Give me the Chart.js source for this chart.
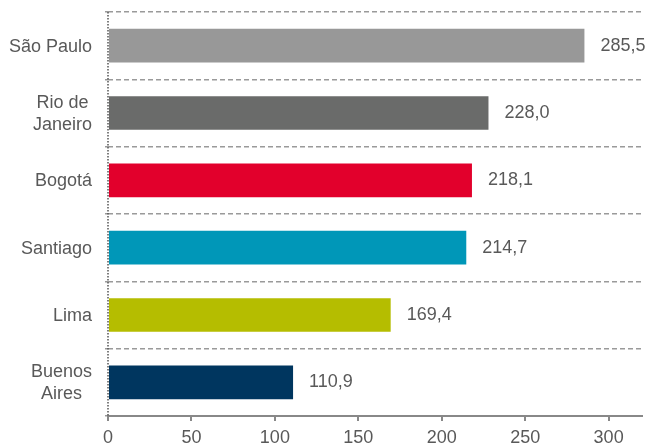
<!DOCTYPE html>
<html>
<head>
<meta charset="utf-8">
<script src="https://cdn.jsdelivr.net/npm/chart.js@4/dist/chart.umd.min.js"></script>
<style>
html,body{margin:0;padding:0;background:#fff;}
#wrap{width:651px;height:447px;position:relative;}
</style>
</head>
<body>
<div id="wrap"><canvas id="c"></canvas></div>
<script>
const categories = [["São Paulo"], ["Rio de", "Janeiro"], ["Bogotá"], ["Santiago"], ["Lima"], ["Buenos", "Aires"]];
const values = [285.5, 228.0, 218.1, 214.7, 169.4, 110.9];
const barColors = ["#989898", "#6a6b6a", "#e2002c", "#0097b8", "#b5bd00", "#00365f"];
const xTicks = [0, 50, 100, 150, 200, 250, 300];
const xMax = 320;

const FONT = "'Liberation Sans', Arial, sans-serif";
const TEXT = "#595959";

const labelPlugin = {
  id: 'labels',
  afterDatasetsDraw(chart) {
    const ctx = chart.ctx;
    const meta = chart.getDatasetMeta(0);
    const yScale = chart.scales.y;
    const area = chart.chartArea;
    ctx.save();
    // dotted left axis
    ctx.strokeStyle = '#555555';
    ctx.lineWidth = 1.5;
    ctx.setLineDash([1.5, 1.5]);
    ctx.beginPath();
    ctx.moveTo(area.left, area.top);
    ctx.lineTo(area.left, area.bottom);
    ctx.stroke();
    ctx.setLineDash([]);
    ctx.font = "18px " + FONT;
    ctx.fillStyle = TEXT;
    ctx.textBaseline = 'middle';
    // value labels
    meta.data.forEach((bar, i) => {
      ctx.textAlign = 'left';
      ctx.fillText(values[i].toFixed(1).replace('.', ','), bar.x + 16, bar.y);
    });
    // category labels: block right-aligned, lines centered within block
    const rightEdge = 92;
    const lh = 22;
    categories.forEach((lines, i) => {
      const cy = yScale.getPixelForValue(i);
      const w = Math.max(...lines.map(l => ctx.measureText(l).width));
      const cx = rightEdge - w / 2;
      ctx.textAlign = 'center';
      lines.forEach((l, j) => {
        const y = cy + (j - (lines.length - 1) / 2) * lh + 1;
        ctx.fillText(l, cx, y);
      });
    });
    ctx.restore();
  }
};

new Chart(document.getElementById('c'), {
  type: 'bar',
  data: {
    labels: categories.map(l => l.join(' ')),
    datasets: [{
      data: values,
      backgroundColor: barColors,
      borderWidth: 0,
      barPercentage: 0.5,
      categoryPercentage: 1.0
    }]
  },
  options: {
    indexAxis: 'y',
    responsive: true,
    maintainAspectRatio: false,
    animation: false,
    layout: { padding: { left: 0, right: 9, top: 12, bottom: 0 } },
    plugins: { legend: { display: false }, tooltip: { enabled: false } },
    scales: {
      x: {
        min: 0,
        max: xMax,
        afterBuildTicks(scale) { scale.ticks = xTicks.map(v => ({ value: v })); },
        afterFit(scale) { scale.height = 31; },
        ticks: { color: TEXT, font: { family: FONT, size: 18 }, padding: 6, maxRotation: 0 },
        grid: { display: true, drawOnChartArea: false, drawTicks: true, tickLength: 5, color: '#888888', lineWidth: 2 },
        border: { display: true, color: '#888888', width: 2 }
      },
      y: {
        afterFit(scale) { scale.width = 108; },
        ticks: { display: false },
        grid: { display: true, offset: true, color: '#9a9a9a', lineWidth: 1.5, tickLength: 3, drawTicks: true },
        border: { display: false, dash: [5, 3] }
      }
    }
  },
  plugins: [labelPlugin]
});
</script>
</body>
</html>
